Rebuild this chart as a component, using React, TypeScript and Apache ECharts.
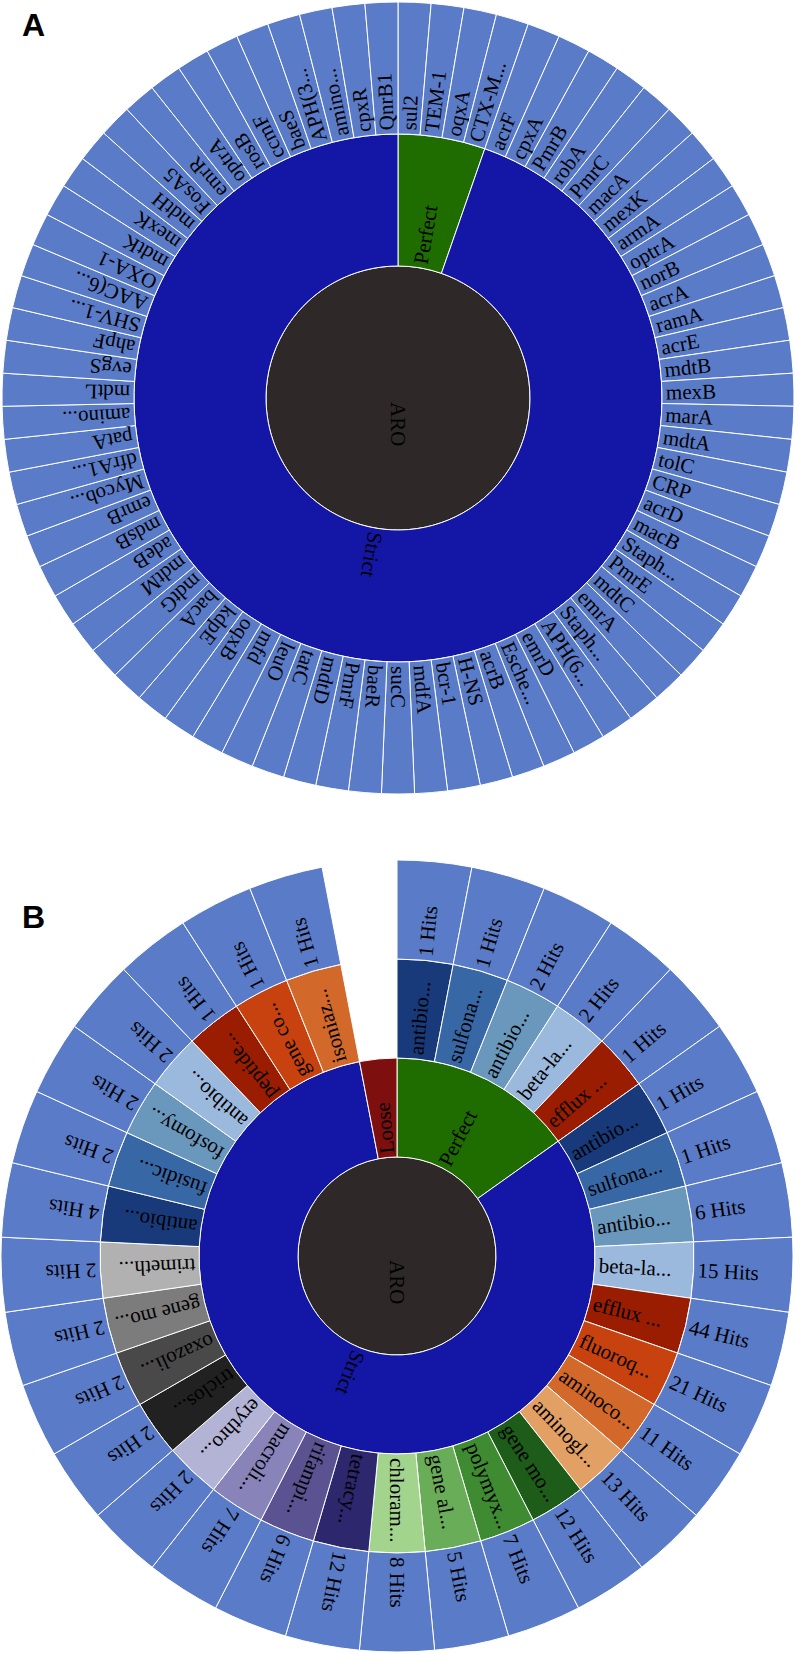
import React, { useEffect, useRef } from "react";
import * as echarts from "echarts";

// ---------- Data ----------
const rootLabel = "ARO";

// Panel A
const aMatchNames = ["Perfect", "Strict"];
const aMatchSizes = [4, 71];
const aGenes = [
  "sul2", "TEM-1", "oqxA", "CTX-M...", "acrF", "cpxA", "PmrB", "robA", "PmrC", "macA",
  "mexK", "armA", "optrA", "norB", "acrA", "ramA", "acrE", "mdtB", "mexB", "marA",
  "mdtA", "tolC", "CRP", "acrD", "macB", "Staph...", "PmrE", "mdtC", "emrA", "Staph...",
  "APH(6...", "emrD", "Esche...", "acrB", "H-NS", "bcr-1", "mdfA", "sucC", "baeR", "PmrF",
  "mdtD", "tatC", "leuO", "mfd", "oqxB", "kdpE", "bacA", "mdtG", "mdtM", "adeB",
  "mdsB", "emrB", "Mycob...", "dfrA1...", "patA", "amino...", "mdtL", "evgS", "ahpF", "SHV-1...",
  "AAC(6...", "OXA-1", "mdtK", "mexK", "mdtH", "FosA5", "emrR", "optrA", "rosB", "ccmF",
  "baeS", "APH(3...", "amino...", "cpxR", "QnrB1",
];

// Panel B
const bMatchNames = ["Perfect", "Strict", "Loose"];
const bMatchSizes = [5, 27, 1];
const bClassLabels = [
  "antibio...", "sulfona...", "antibio...", "beta-la...",
  "efflux ...", "antibio...", "sulfona...", "antibio...", "beta-la...", "efflux ...",
  "fluoroq...", "aminoco...", "aminogl...", "gene mo...", "polymyx...", "gene al...",
  "chloram...", "tetracy...", "rifampi...", "macroli...", "erythro...", "triclos...",
  "oxazoli...", "gene mo...", "trimeth...", "antibio...", "fusidic...", "fosfomy...",
  "antibio...", "peptide...", "gene co...", "isoniaz...",
];
// distinct drug-class keys (first-appearance order drives the ordinal colour scale)
const bClassKeys = [
  "antibio-1", "sulfona", "antibio-2", "beta-la",
  "efflux", "antibio-1", "sulfona", "antibio-2", "beta-la", "efflux",
  "fluoroq", "aminoco", "aminogl", "gene mo-1", "polymyx", "gene al",
  "chloram", "tetracy", "rifampi", "macroli", "erythro", "triclos",
  "oxazoli", "gene mo-2", "trimeth", "antibio-3", "fusidic", "fosfomy",
  "antibio-4", "peptide", "gene co", "isoniaz",
];
const bHits = [1, 1, 2, 2, 1, 1, 1, 6, 15, 44, 21, 11, 13, 12, 7, 5, 8, 12, 6, 7, 2, 2, 2, 2, 2, 4, 2, 2, 2, 1, 1, 1];
const bEmptySlots = 1;

// ---------- Styles ----------
const FONT = "Liberation Serif";
const rootColor = "#2e2828";
const matchColors: Record<string, string> = { Perfect: "#1f6c00", Strict: "#1417a6", Loose: "#7d0f0f" };
const leafColor = "#5a7bc7";
const classPalette = [
  "#183a7a", "#3867a5", "#6a98bd", "#9bb8dd",
  "#9a1d02", "#c8420f", "#d2692a", "#e3a064",
  "#1d5c19", "#3f8b31", "#6aad58", "#a2d48e",
  "#2d276e", "#5a5291", "#8884b9", "#b3b3d5",
  "#212121", "#494949", "#7c7c7c", "#b1b1b1",
];

type Item = { value: number; text?: string; color?: string; blank?: boolean };

function ring(center: number[], r0: number, r1: number, items: Item[]) {
  const total = items.reduce((s, d) => s + d.value, 0);
  let acc = 0;
  const W = r1 - r0 - 2;
  const data = items.map((d, i) => {
    const mid = ((acc + d.value / 2) / total) * 360;
    acc += d.value;
    if (d.blank) {
      return {
        value: d.value,
        name: "gap" + i,
        itemStyle: { color: "rgba(0,0,0,0)", borderWidth: 0 },
        label: { show: false },
      };
    }
    return {
      value: d.value,
      name: (d.text || "") + "#" + i,
      text: d.text,
      itemStyle: { color: d.color },
      label: { rotate: 90 - mid },
    };
  });
  return {
    type: "pie",
    center,
    radius: [r0, r1],
    startAngle: 90,
    clockwise: true,
    silent: true,
    avoidLabelOverlap: false,
    labelLine: { show: false },
    emphasis: { disabled: true },
    itemStyle: { borderColor: "#ffffff", borderWidth: 1 },
    label: {
      show: true,
      position: "inside",
      color: "#000",
      fontFamily: FONT,
      fontSize: 21,
      formatter: (p: any) => `{t|${p.data.text}}`,
      rich: { t: { width: W, align: "left", fontFamily: FONT, fontSize: 21, color: "#000" } },
    },
    data,
  };
}

function buildOption() {
  const cA = [398, 398];
  const cB = [397, 1256];

  // Panel A
  const aRoot = ring(cA, 0, 132, [{ value: 1, text: rootLabel, color: rootColor }]);
  const aMatch = ring(
    cA, 132, 264,
    aMatchNames.map((n, i) => ({ value: aMatchSizes[i], text: n, color: matchColors[n] }))
  );
  const aLeaf = ring(cA, 264, 396, aGenes.map((g) => ({ value: 1, text: g, color: leafColor })));

  // Panel B
  const order: string[] = [];
  bClassKeys.forEach((k) => { if (!order.includes(k)) order.push(k); });
  const classColor = (k: string) => classPalette[order.indexOf(k) % classPalette.length];

  const bRoot = ring(cB, 0, 99, [{ value: 1, text: rootLabel, color: rootColor }]);
  const bMatch = ring(
    cB, 99, 198,
    bMatchNames.map((n, i) => ({ value: bMatchSizes[i], text: n, color: matchColors[n] }))
  );
  const classItems: Item[] = bClassLabels.map((l, i) => ({ value: 1, text: l, color: classColor(bClassKeys[i]) }));
  const hitItems: Item[] = bHits.map((h) => ({ value: 1, text: `${h} Hits`, color: leafColor }));
  for (let i = 0; i < bEmptySlots; i++) {
    classItems.push({ value: 1, blank: true });
    hitItems.push({ value: 1, blank: true });
  }
  const bClass = ring(cB, 198, 297, classItems);
  const bHit = ring(cB, 297, 396, hitItems);

  return {
    animation: false,
    backgroundColor: "#ffffff",
    graphic: [
      {
        type: "text", left: 22, top: 9,
        style: { text: "A", fontFamily: "Liberation Sans", fontWeight: "bold", fontSize: 32, fill: "#000" },
      },
      {
        type: "text", left: 22, top: 901,
        style: { text: "B", fontFamily: "Liberation Sans", fontWeight: "bold", fontSize: 32, fill: "#000" },
      },
    ],
    series: [aRoot, aMatch, aLeaf, bRoot, bMatch, bClass, bHit],
  };
}

export default function App() {
  const ref = useRef<HTMLDivElement>(null);
  useEffect(() => {
    document.body.style.margin = "0";
    const chart = echarts.init(ref.current!, undefined, { renderer: "svg" });
    chart.setOption(buildOption() as any);
    return () => chart.dispose();
  }, []);
  return (
    <div
      ref={ref}
      style={{ position: "absolute", left: 0, top: 0, width: 795, height: 1654, background: "#fff" }}
    />
  );
}
